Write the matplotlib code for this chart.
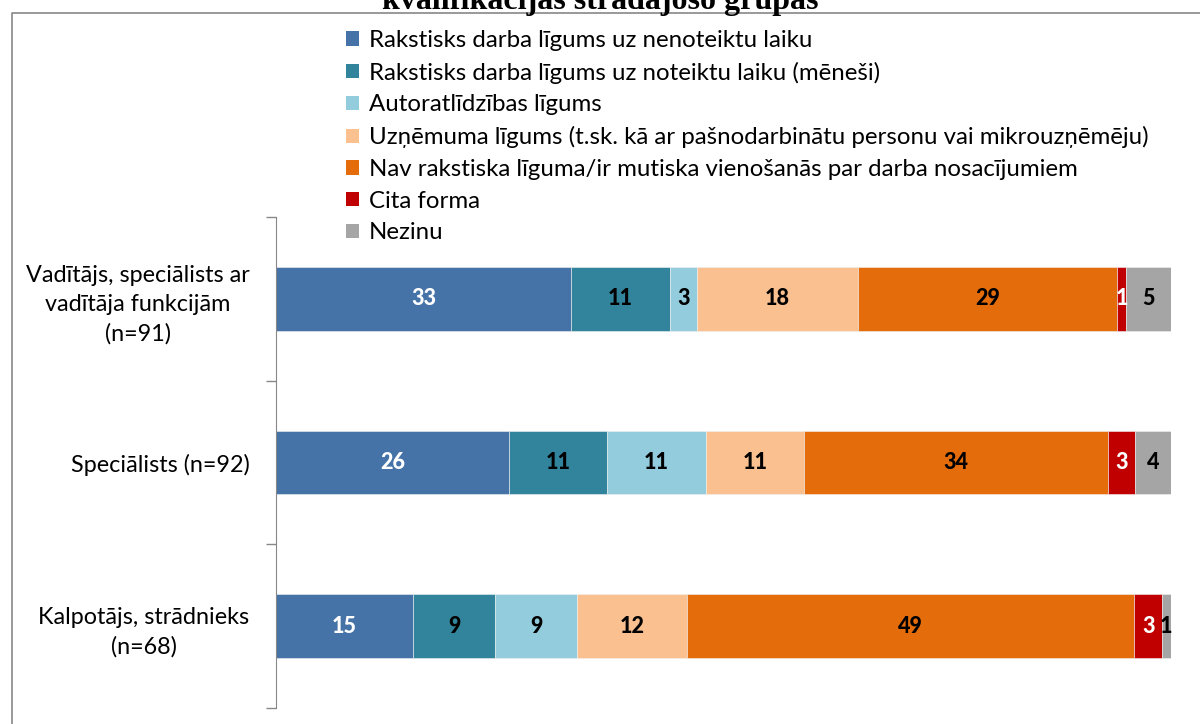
import numpy as np
import matplotlib
matplotlib.use('Agg')
import matplotlib.pyplot as plt
from matplotlib.patches import Patch
from matplotlib.lines import Line2D

plt.rcParams['font.family'] = ['Lato', 'DejaVu Sans']

title = 'kvalifikācijas strādājošo grupās'

groups = ['Vadītājs, speciālists ar\nvadītāja funkcijām\n(n=91)',
          'Speciālists (n=92)',
          'Kalpotājs, strādnieks\n(n=68)']

series = ['Rakstisks darba līgums uz nenoteiktu laiku',
          'Rakstisks darba līgums uz noteiktu laiku (mēneši)',
          'Autoratlīdzības līgums',
          'Uzņēmuma līgums (t.sk. kā ar pašnodarbinātu personu vai mikrouzņēmēju)',
          'Nav rakstiska līguma/ir mutiska vienošanās par darba nosacījumiem',
          'Cita forma',
          'Nezinu']

# percentages per group, in series order
values = np.array([
    [33, 11, 3, 18, 29, 1, 5],
    [26, 11, 11, 11, 34, 3, 4],
    [15, 9, 9, 12, 49, 3, 1],
], dtype=float)

colors = ['#4572A7', '#31849B', '#93CDDD', '#FAC090', '#E46C0A', '#C00000', '#A5A5A5']
label_colors = ['white', 'black', 'black', 'black', 'black', 'white', 'black']

W, H = 1200, 724
fig = plt.figure(figsize=(12, 7.24), dpi=100)

# 100% stacked
shares = values / values.sum(axis=1, keepdims=True) * 100

ax = fig.add_axes([276 / W, 1 - 708 / H, (1171 - 276) / W, (708 - 217) / H])
y = np.arange(len(groups))
left = np.zeros(len(groups))
for j, s in enumerate(series):
    ax.barh(y, shares[:, j], left=left, height=0.39, color=colors[j],
            edgecolor='#f0f0f0', linewidth=0.4, label=s)
    for i in range(len(groups)):
        cx = left[i] + shares[i, j] / 2
        ax.text(cx, y[i], f'{values[i, j]:.0f}', ha='center', va='center',
                color=label_colors[j], fontsize=15.5, fontweight='black')
    left += shares[:, j]

ax.set_xlim(0, 100)
ax.set_ylim(2.5, -0.5)
for sp in ['top', 'right', 'bottom']:
    ax.spines[sp].set_visible(False)
ax.spines['left'].set_color('#888888')
ax.set_xticks([])
ax.set_yticks(y)
ax.set_yticklabels(groups, multialignment='center', fontsize=16.8, linespacing=1.45)
ax.tick_params(axis='y', which='major', length=0, pad=19)
ax.set_yticks([-0.5, 0.5, 1.5, 2.5], minor=True)
ax.tick_params(axis='y', which='minor', length=7.5, color='#888888', width=1)

handles = [Patch(facecolor=c, edgecolor='none') for c in colors]
fig.legend(handles, series, loc='upper left', bbox_to_anchor=(346 / W, 1 - 30 / H),
           frameon=False, fontsize=17.3, handlelength=0.54, handleheight=0.54,
           handletextpad=0.4, labelspacing=0.445, borderaxespad=0, borderpad=0)

# outer frame (cut off at right and bottom)
fig.add_artist(Line2D([12 / W, 12 / W, 1], [0, 1 - 13 / H, 1 - 13 / H],
                      color='#888888', linewidth=1.2, transform=fig.transFigure))

fig.text(0.5, 1 - 9 / H, title, ha='center', va='baseline', fontsize=23,
         fontweight='bold', family=['Liberation Serif', 'DejaVu Serif'])

fig.savefig('out.png', dpi=100)
